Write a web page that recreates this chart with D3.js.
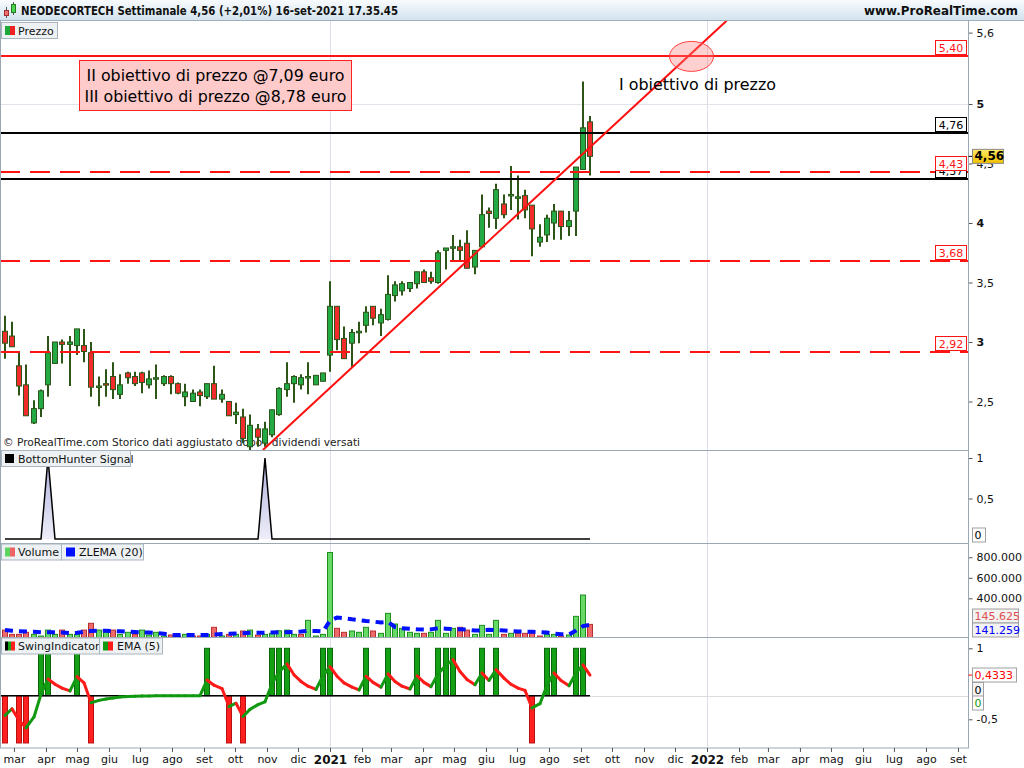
<!DOCTYPE html>
<html><head><meta charset="utf-8">
<script src="https://cdn.jsdelivr.net/npm/d3@7"></script>
<style>
html,body{margin:0;padding:0;background:#fff;}
svg{display:block;font-family:"DejaVu Sans","Noto Sans",sans-serif;}
</style></head><body>
<svg id="chart" width="1024" height="768"></svg>
<script>
// ---------------- DATA ----------------
const firstWeek = new Date(2020, 1, 21);   // weekly bars (Fridays)
const lastWeek  = new Date(2021, 8, 10);
const monthNames = ["gen","feb","mar","apr","mag","giu","lug","ago","set","ott","nov","dic"];

const openP = [3.09,3.05,2.80,2.64,2.32,2.44,2.64,2.82,3.00,2.98,
 2.97,2.97,2.91,2.62,2.65,2.71,2.56,2.74,2.71,2.74,
 2.64,2.70,2.65,2.71,2.65,2.54,2.50,2.58,2.54,2.65,
 2.52,2.50,2.39,2.37,2.12,2.27,2.15,2.22,2.39,2.60,
 2.65,2.64,2.70,2.64,2.67,2.89,3.30,3.03,2.99,3.08,
 3.14,3.30,3.16,3.19,3.39,3.43,3.45,3.49,3.59,3.54,
 3.50,3.77,3.79,3.80,3.83,3.63,3.80,4.10,4.04,4.16,
 4.23,4.21,4.23,4.15,3.84,3.90,4.00,4.10,3.97,4.10,
 4.45,4.85];
const highP = [3.22,3.17,2.91,2.81,2.51,2.60,3.05,3.00,3.02,3.05,
 3.11,3.11,3.00,2.71,2.77,2.83,2.73,2.75,2.75,2.75,
 2.76,2.81,2.72,2.72,2.66,2.65,2.60,2.60,2.65,2.80,
 2.60,2.50,2.49,2.44,2.39,2.31,2.33,2.43,2.62,2.83,
 2.72,2.73,2.83,2.72,2.74,3.51,3.30,3.13,3.11,3.17,
 3.30,3.30,3.28,3.56,3.51,3.51,3.50,3.59,3.61,3.59,
 3.77,3.79,3.90,3.86,3.94,3.77,4.24,4.13,4.33,4.24,
 4.48,4.40,4.28,4.15,3.99,4.07,4.16,4.10,4.10,4.47,
 5.19,4.90];
const lowP = [2.86,2.96,2.55,2.38,2.31,2.37,2.54,2.82,2.82,2.63,
 2.89,2.83,2.54,2.46,2.54,2.52,2.52,2.65,2.63,2.57,
 2.61,2.52,2.63,2.56,2.56,2.46,2.50,2.46,2.52,2.52,
 2.49,2.38,2.31,2.15,2.09,2.12,2.12,2.20,2.38,2.54,
 2.49,2.60,2.56,2.64,2.67,2.75,2.93,2.86,2.79,2.99,
 3.08,3.14,3.05,3.18,3.34,3.39,3.42,3.45,3.50,3.49,
 3.49,3.61,3.68,3.68,3.62,3.57,3.80,3.96,3.95,4.04,
 4.11,4.03,4.04,3.72,3.80,3.84,3.86,3.86,3.89,3.89,
 4.45,4.40];
const closeP = [2.99,2.96,2.63,2.38,2.44,2.59,2.91,3.00,2.98,3.00,
 3.11,2.92,2.62,2.63,2.64,2.60,2.64,2.70,2.65,2.66,
 2.69,2.70,2.71,2.65,2.57,2.58,2.57,2.55,2.65,2.52,
 2.56,2.38,2.41,2.19,2.30,2.20,2.27,2.43,2.61,2.65,
 2.71,2.70,2.71,2.72,2.74,3.30,3.02,2.86,3.08,3.09,
 3.25,3.20,3.23,3.40,3.48,3.49,3.50,3.59,3.50,3.51,
 3.75,3.79,3.80,3.77,3.62,3.77,4.07,4.08,4.28,4.07,
 4.24,4.22,4.11,3.95,3.88,4.04,4.10,3.97,4.02,4.47,
 4.80,4.56];

const volume = [90000,48000,48000,68000,48000,32000,90000,48000,90000,48000,
 48000,90000,156000,90000,68000,90000,48000,68000,48000,90000,
 42000,68000,32000,42000,32000,48000,32000,32000,48000,117000,
 32000,48000,48000,81000,90000,42000,48000,58000,83000,90000,
 48000,48000,185000,32000,48000,847000,107000,68000,81000,68000,
 117000,81000,58000,253000,149000,107000,68000,58000,58000,68000,
 185000,58000,107000,117000,90000,48000,136000,48000,185000,48000,
 58000,58000,58000,58000,32000,48000,48000,32000,42000,224000,
 432000,145625];
const zlema = [90000,83000,79000,76000,73000,69000,68000,68000,66000,61000,
 63000,73000,81000,83000,83000,81000,78000,74000,71000,68000,
 66000,61000,54000,43000,42000,42000,42000,42000,42000,46000,
 51000,53000,56000,59000,63000,64000,64000,66000,68000,69000,
 71000,76000,83000,81000,76000,183000,212000,207000,195000,188000,
 178000,173000,164000,168000,120000,107000,102000,97000,95000,97000,
 108000,103000,100000,98000,95000,85000,88000,92000,90000,85000,
 81000,76000,74000,73000,71000,66000,56000,49000,48000,85000,
 129000,141259];
const bottomHunter = [0,0,0,0,0,0,1,0,0,0, 0,0,0,0,0,0,0,0,0,0,
 0,0,0,0,0,0,0,0,0,0, 0,0,0,0,0,0,1,0,0,0, 0,0,0,0,0,0,0,0,0,0,
 0,0,0,0,0,0,0,0,0,0, 0,0,0,0,0,0,0,0,0,0, 0,0,0,0,0,0,0,0,0,0, 0,0];
const swing = [-1,0,-1,-1,0,1,1,0,0,0, 1,0,-1,0,0,0,0,0,0,0,
 0,0,0,0,0,0,0,0,1,0, 0,-1,0,-1,0,0,0,1,1,1, 0,0,0,0,1,1,0,0,0,0,
 1,0,0,1,0,0,0,1,0,0, 1,1,1,0,0,0,1,0,1,0, 0,0,0,-1,0,1,1,0,0,1, 1,0];
const ema5 = [-0.42,-0.28,-0.52,-0.68,-0.45,0.03,0.35,0.24,0.16,0.10,
 0.40,0.27,-0.15,-0.10,-0.07,-0.05,-0.03,-0.02,-0.015,-0.01,
 -0.006,-0.004,-0.003,-0.002,-0.001,-0.001,0,0,0.33,0.22,
 0.15,-0.23,-0.16,-0.44,-0.29,-0.19,-0.13,0.25,0.50,0.67,
 0.44,0.30,0.20,0.13,0.42,0.61,0.41,0.27,0.18,0.12,
 0.41,0.28,0.18,0.46,0.30,0.20,0.14,0.42,0.28,0.19,
 0.46,0.64,0.76,0.51,0.34,0.23,0.48,0.32,0.55,0.37,
 0.24,0.16,0.11,-0.26,-0.17,0.22,0.48,0.32,0.21,0.48,
 0.65,0.4333];

const levelValues = [5.40, 4.76, 4.37, 4.43, 3.68, 2.92];
const levelKinds  = ["target","resist","resist","support","support","support"];
const trendPoints = [[new Date(2020, 9, 28), 2.092], [new Date(2022, 0, 20), 5.70]];
const targetMark  = [new Date(2021, 11, 17), 5.40];
const priceTicks  = [2.5, 3, 3.5, 4, 4.5, 5, 5.6];
const priceGrid   = [5];
const volTicks    = [400000, 600000, 800000];
const bhTicks     = [0.5, 1];
const swingTicks  = [-0.5, 1];
const lastPrice   = 4.56;
const headerText  = "NEODECORTECH Settimanale 4,56 (+2,01%) 16-set-2021 17.35.45";
const siteText    = "www.ProRealTime.com";
const noteLines   = ["II obiettivo di prezzo @7,09 euro", "III obiettivo di prezzo @8,78 euro"];
const noteTarget  = "I obiettivo di prezzo";
const copyright   = "© ProRealTime.com  Storico dati aggiustato dopo i dividendi versati";

// ---------------- SETUP ----------------
const weeks = d3.timeFriday.range(firstWeek, d3.timeDay.offset(lastWeek, 1));
const svg = d3.select("#chart");
const defs = svg.append("defs");
const comma = v => String(Math.round(v * 10000) / 10000).replace(".", ",");
const thou = v => d3.format(",")(Math.round(v)).replace(/,/g, ".");

function grad(id, c1, c2) {
  const g = defs.append("linearGradient").attr("id", id).attr("x1", 0).attr("y1", 0).attr("x2", 0).attr("y2", 1);
  g.append("stop").attr("offset", "0%").attr("stop-color", c1);
  g.append("stop").attr("offset", "100%").attr("stop-color", c2);
}
grad("hdr", "#f8fbfd", "#d3e3ee");
grad("bhFill", "#aeb0dc", "#eeeef9");
grad("yel", "#ffe966", "#f0c000");

const RIGHT = 968.5;
const panels = {price: [20.5, 450], bh: [450, 543], vol: [543, 637.5], swing: [637.5, 748]};
Object.entries(panels).forEach(([k, [t, b]]) => {
  defs.append("clipPath").attr("id", "clip-" + k).append("rect")
    .attr("x", 1).attr("y", t).attr("width", RIGHT - 1).attr("height", b - t);
});

const x = d3.scaleTime().domain([new Date(2021, 0, 1), new Date(2022, 0, 1)]).range([330, 707]);
const yP = d3.scaleLinear().domain([2.5, 5.6]).range([401.5, 32.6]);
const yB = d3.scaleLinear().domain([0, 1]).range([539, 458]);
const yV = d3.scaleLinear().domain([0, 800000]).range([639.3, 557.3]);
const yS = d3.scaleLinear().domain([-0.5, 1]).range([719.3, 648.3]);
const cx = i => Math.round(x(weeks[i]));

// background
svg.append("rect").attr("width", 1024).attr("height", 768).attr("fill", "#fff");

// year gridlines
const years = [new Date(2021, 0, 1), new Date(2022, 0, 1)];
svg.append("g").selectAll("line").data(years).join("line")
  .attr("x1", d => Math.round(x(d)) + 0.5).attr("x2", d => Math.round(x(d)) + 0.5)
  .attr("y1", 21).attr("y2", 748).attr("stroke", "#dddded").attr("stroke-width", 1);

// ---------------- PRICE PANEL ----------------
const gP = svg.append("g").attr("clip-path", "url(#clip-price)");
gP.selectAll("line.grid").data(priceGrid).join("line")
  .attr("x1", 0).attr("x2", RIGHT).attr("y1", d => Math.round(yP(d)) + 0.5).attr("y2", d => Math.round(yP(d)) + 0.5)
  .attr("stroke", "#e2e2ea");

gP.append("text").attr("x", 3).attr("y", 446).attr("font-size", 11).attr("fill", "#222")
  .attr("textLength", 357).attr("lengthAdjust", "spacingAndGlyphs").text(copyright);

const idx = d3.range(weeks.length);
gP.selectAll("line.wick").data(idx).join("line").attr("class", "wick")
  .attr("x1", cx).attr("x2", cx)
  .attr("y1", i => yP(highP[i])).attr("y2", i => yP(lowP[i]))
  .attr("stroke", "#2c5517").attr("stroke-width", 2);
gP.selectAll("rect.body").data(idx).join("rect").attr("class", "body")
  .attr("x", i => cx(i) - 2.5).attr("width", 5)
  .attr("y", i => yP(Math.max(openP[i], closeP[i])))
  .attr("height", i => Math.max(1.5, Math.abs(yP(openP[i]) - yP(closeP[i]))))
  .attr("fill", i => closeP[i] >= openP[i] ? "#23aa47" : "#f22c2c")
  .attr("stroke", "#2c5517").attr("stroke-width", 1);

const levelStyle = {
  target:  {stroke: "#ff1414", dash: null, text: "#ff1414"},
  resist:  {stroke: "#000000", dash: null, text: "#000000"},
  support: {stroke: "#ff1414", dash: "20,10", text: "#ff1414"}
};
levelValues.forEach((v, i) => {
  const s = levelStyle[levelKinds[i]];
  const yy = Math.round(yP(v));
  gP.append("line").attr("x1", 0).attr("x2", RIGHT).attr("y1", yy).attr("y2", yy)
    .attr("stroke", s.stroke).attr("stroke-width", 2).attr("stroke-dasharray", s.dash);
});

// trend line
gP.append("path").datum(trendPoints)
  .attr("d", d3.line().x(d => x(d[0])).y(d => yP(d[1])))
  .attr("stroke", "#ff1010").attr("stroke-width", 2).attr("fill", "none");
gP.append("ellipse").attr("cx", x(targetMark[0])).attr("cy", yP(targetMark[1]))
  .attr("rx", 22).attr("ry", 15)
  .attr("fill", "rgba(255,120,120,0.35)").attr("stroke", "#ff4040").attr("stroke-width", 1);

// level labels (boxes above each line)
levelValues.forEach((v, i) => {
  const s = levelStyle[levelKinds[i]];
  const yy = Math.round(yP(v));
  gP.append("rect").attr("x", 935.5).attr("y", yy - 15.5).attr("width", 31).attr("height", 14)
    .attr("fill", "#fff").attr("stroke", s.stroke).attr("stroke-width", 1);
  gP.append("text").attr("x", 951).attr("y", yy - 4.5).attr("text-anchor", "middle")
    .attr("font-size", 11).attr("fill", s.text).text(comma(v).padEnd(4, "0").replace(/^(\d),(\d)$/, "$1,$20"));
});

// annotations
svg.append("rect").attr("x", 79.5).attr("y", 60.5).attr("width", 272).attr("height", 50)
  .attr("fill", "#ffcaca").attr("stroke", "#ff2020").attr("stroke-width", 1);
noteLines.forEach((t, i) => {
  svg.append("text").attr("x", 215.5).attr("y", 81 + i * 21).attr("text-anchor", "middle")
    .attr("font-size", 16.5).attr("fill", "#000")
    .attr("textLength", i === 0 ? 258 : 262).attr("lengthAdjust", "spacingAndGlyphs").text(t);
});
svg.append("text").attr("x", 619).attr("y", 90).attr("font-size", 16.5).attr("fill", "#000")
  .attr("textLength", 157).attr("lengthAdjust", "spacingAndGlyphs").text(noteTarget);

// ---------------- BOTTOM HUNTER ----------------
const gB = svg.append("g").attr("clip-path", "url(#clip-bh)");
gB.append("path").datum(idx)
  .attr("d", d3.area().x(cx).y0(yB(0)).y1(i => yB(bottomHunter[i])))
  .attr("fill", "url(#bhFill)");
gB.append("path").datum(idx)
  .attr("d", d3.line().x(cx).y(i => yB(bottomHunter[i])))
  .attr("fill", "none").attr("stroke", "#000").attr("stroke-width", 1.5);

// ---------------- VOLUME ----------------
const gV = svg.append("g").attr("clip-path", "url(#clip-vol)");
const volUp = i => i === 0 ? closeP[0] >= openP[0] : closeP[i] >= closeP[i - 1];
gV.selectAll("rect").data(idx).join("rect")
  .attr("x", i => cx(i) - 2.5).attr("width", 5)
  .attr("y", i => yV(volume[i])).attr("height", i => yV(0) - yV(volume[i]))
  .attr("fill", i => volUp(i) ? "#66d966" : "#ee6a6a")
  .attr("stroke", i => volUp(i) ? "#1f8e1f" : "#b53030").attr("stroke-width", 1);
gV.append("path").datum(idx)
  .attr("d", d3.line().x(cx).y(i => yV(zlema[i])))
  .attr("fill", "none").attr("stroke", "#0010ff").attr("stroke-width", 4).attr("stroke-dasharray", "8,6");

// ---------------- SWING ----------------
const gS = svg.append("g").attr("clip-path", "url(#clip-swing)");
gS.append("line").attr("x1", 0).attr("x2", RIGHT).attr("y1", Math.round(yS(0)) + 0.5).attr("y2", Math.round(yS(0)) + 0.5)
  .attr("stroke", "#dcdcdc");
const sw = idx.filter(i => swing[i] !== 0);
gS.selectAll("rect").data(sw).join("rect")
  .attr("x", i => cx(i) - 2.5).attr("width", 5)
  .attr("y", i => Math.min(yS(0), yS(swing[i]))).attr("height", i => Math.abs(yS(swing[i]) - yS(0)))
  .attr("fill", i => swing[i] > 0 ? "#14a014" : "#ff2020")
  .attr("stroke", i => swing[i] > 0 ? "#0b640b" : "#b81010").attr("stroke-width", 1);
gS.append("line").attr("x1", cx(0) - 4).attr("x2", cx(weeks.length - 1)).attr("y1", yS(0)).attr("y2", yS(0))
  .attr("stroke", "#000").attr("stroke-width", 1.5);
gS.selectAll("line.ema").data(idx.slice(0, -1)).join("line").attr("class", "ema")
  .attr("x1", cx).attr("x2", i => cx(i + 1))
  .attr("y1", i => yS(ema5[i])).attr("y2", i => yS(ema5[i + 1]))
  .attr("stroke", i => ema5[i + 1] >= ema5[i] ? "#119911" : "#ff1a1a")
  .attr("stroke-width", 3).attr("stroke-linecap", "round");

// ---------------- FRAME / SEPARATORS ----------------
svg.append("rect").attr("x", 0.5).attr("y", 20.5).attr("width", RIGHT - 0.5).attr("height", 727.5)
  .attr("fill", "none").attr("stroke", "#9aa8b4");
[450.5, 543.5, 637.5].forEach(yy => svg.append("line").attr("x1", 0).attr("x2", RIGHT).attr("y1", yy).attr("y2", yy)
  .attr("stroke", "#9aa8b4"));

// ---------------- AXES ----------------
function styleAxis(g) {
  g.attr("font-family", null).attr("font-size", null);
  g.select(".domain").remove();
  g.selectAll("line").attr("stroke", "#555");
  g.selectAll("text").attr("font-size", 11).attr("fill", "#111");
}
const aP = svg.append("g").attr("transform", `translate(${RIGHT},0)`)
  .call(d3.axisRight(yP).tickValues(priceTicks).tickSize(4).tickPadding(4).tickFormat(comma));
styleAxis(aP);
aP.selectAll("text").attr("font-weight", d => Number.isInteger(d) ? "bold" : "normal");

const aB = svg.append("g").attr("transform", `translate(${RIGHT},0)`)
  .call(d3.axisRight(yB).tickValues(bhTicks).tickSize(4).tickPadding(4).tickFormat(comma));
styleAxis(aB);
const aV = svg.append("g").attr("transform", `translate(${RIGHT},0)`)
  .call(d3.axisRight(yV).tickValues(volTicks).tickSize(4).tickPadding(4).tickFormat(thou));
styleAxis(aV);
const aS = svg.append("g").attr("transform", `translate(${RIGHT},0)`)
  .call(d3.axisRight(yS).tickValues(swingTicks).tickSize(4).tickPadding(4).tickFormat(comma));
styleAxis(aS);

const monthTicks = d3.timeMonth.range(new Date(2020, 2, 1), new Date(2022, 8, 2));
const aX = svg.append("g").attr("transform", "translate(0,748)")
  .call(d3.axisBottom(x).tickValues(monthTicks).tickSize(4).tickPadding(3)
    .tickFormat(d => d.getMonth() === 0 ? String(d.getFullYear()) : monthNames[d.getMonth()]));
styleAxis(aX);
aX.selectAll("text").attr("font-weight", d => d.getMonth() === 0 ? "bold" : "normal")
  .attr("font-size", d => d.getMonth() === 0 ? 12 : 11);

// axis line
svg.append("line").attr("x1", RIGHT).attr("x2", RIGHT).attr("y1", 20).attr("y2", 748).attr("stroke", "#9aa8b4");

// value boxes in axis
function valBox(yc, txt, color, w, opts = {}) {
  svg.append("rect").attr("x", 972.5).attr("y", yc - 7).attr("width", w).attr("height", 14)
    .attr("fill", opts.fill || "#f2f2f2").attr("stroke", opts.stroke || "#a0a0a0");
  svg.append("text").attr("x", 974.5).attr("y", yc + 4).attr("font-size", opts.size || 11)
    .attr("font-weight", opts.bold ? "bold" : "normal").attr("fill", color).text(txt);
}
svg.append("line").attr("x1", RIGHT).attr("x2", 973).attr("y1", yP(lastPrice)).attr("y2", yP(lastPrice)).attr("stroke", "#000");
valBox(yP(lastPrice), comma(lastPrice), "#000", 31, {fill: "url(#yel)", stroke: "#8a8a8a", bold: true, size: 12});
valBox(535, "0", "#000", 13, {fill: "#fff"});
valBox(616, thou(volume[volume.length - 1]).replace(/^(\d+)\.(\d{3})$/, "$1.$2"), "#e05050", 46);
valBox(630, thou(zlema[zlema.length - 1]), "#0000ff", 46);
svg.append("line").attr("x1", RIGHT).attr("x2", 972).attr("y1", yS(ema5[ema5.length - 1])).attr("y2", yS(ema5[ema5.length - 1])).attr("stroke", "#ff0000");
valBox(675, comma(ema5[ema5.length - 1]), "#ff0000", 44, {fill: "#fff"});
valBox(689.5, "0", "#000", 11, {fill: "#f4f4f4"});
valBox(703, "0", "#119911", 11, {fill: "#fff"});

// ---------------- LEGENDS ----------------
function legendBox(x0, y0, w, label, icons, tx) {
  svg.append("rect").attr("x", x0 + 0.5).attr("y", y0 + 0.5).attr("width", w).attr("height", 16)
    .attr("fill", "#edf1f4").attr("stroke", "#a9b5bf");
  icons.forEach(([ix, iw, col]) => svg.append("rect").attr("x", ix).attr("y", y0 + 4).attr("width", iw).attr("height", 9).attr("fill", col));
  svg.append("text").attr("x", tx).attr("y", y0 + 12.5).attr("font-size", 11).attr("fill", "#111").text(label);
}
legendBox(1, 22, 56, "Prezzo", [[5, 5, "#1fa83a"], [10, 5, "#ee2020"]], 18);
legendBox(1, 450, 129, "BottomHunter Signal", [[5, 9, "#000"]], 18);
legendBox(1, 543.5, 60, "Volume", [[5, 5, "#5fd35f"], [10, 5, "#ee6464"]], 18);
legendBox(61, 543.5, 82, "ZLEMA (20)", [[66, 9, "#0010ff"]], 79);
legendBox(1, 637.5, 98, "SwingIndicator", [[5, 3, "#000"], [8, 3, "#14a014"], [11, 4, "#ff2020"]], 18);
legendBox(99, 637.5, 63, "EMA (5)", [[103, 5, "#119911"], [108, 5, "#ff1a1a"]], 117);

// ---------------- HEADER ----------------
svg.append("rect").attr("x", 0).attr("y", 0).attr("width", 1024).attr("height", 20).attr("fill", "url(#hdr)");
svg.append("line").attr("x1", 0).attr("x2", 1024).attr("y1", 20.5).attr("y2", 20.5).attr("stroke", "#9fb0bd");
svg.append("line").attr("x1", 6.5).attr("x2", 6.5).attr("y1", 7).attr("y2", 18).attr("stroke", "#555");
svg.append("rect").attr("x", 4.5).attr("y", 10.5).attr("width", 4).attr("height", 5).attr("fill", "#f07070").attr("stroke", "#a03030");
svg.append("line").attr("x1", 13.5).attr("x2", 13.5).attr("y1", 2).attr("y2", 15).attr("stroke", "#555");
svg.append("rect").attr("x", 11.5).attr("y", 4.5).attr("width", 4).attr("height", 8).attr("fill", "#50d050").attr("stroke", "#208020");
svg.append("text").attr("x", 21).attr("y", 15).attr("font-size", 12).attr("font-weight", "bold").attr("fill", "#111")
  .attr("textLength", 377).attr("lengthAdjust", "spacingAndGlyphs").text(headerText);
svg.append("text").attr("x", 864).attr("y", 15).attr("font-size", 12).attr("font-weight", "bold").attr("fill", "#111")
  .attr("textLength", 154).attr("lengthAdjust", "spacingAndGlyphs").text(siteText);
</script>
</body></html>
